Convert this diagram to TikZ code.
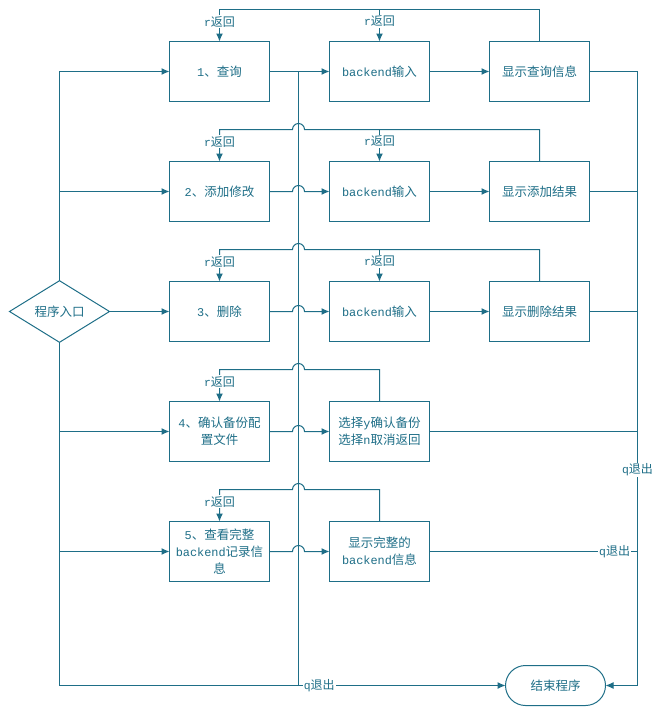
\documentclass[tikz,border=0pt]{standalone}
\usepackage{fontspec}
\setmainfont{Noto Sans CJK SC}
\setmonofont{Liberation Mono}[Scale=0.95]
\usetikzlibrary{arrows.meta,shapes.geometric,calc}
\definecolor{azul}{RGB}{30,110,135}
\tikzstyle{caja}=[draw=azul, text=azul, line width=1pt, align=center,
  minimum width=100pt, minimum height=60pt, inner sep=1pt, outer sep=0pt,
  font=\fontsize{12.5}{17}\selectfont]
\tikzstyle{rombo}=[caja, diamond, minimum height=60pt, inner sep=0pt]
\tikzstyle{fin}=[caja, minimum height=40pt, rounded corners=20pt]
\tikzstyle{texto}=[fill=white, text=azul, inner sep=1pt,
  font=\fontsize{12}{14}\selectfont]
\tikzstyle{linea}=[draw=azul, line width=1pt]
\tikzstyle{line}=[linea, -{Latex[length=8pt,width=7pt]}]
\newcommand{\bloque}[2]{node (#1) [caja] {#2}}
% salto sobre la linea central
\newcommand{\hopleft}[1]{-- ($(#1)+(6,0)$)
  arc[start angle=0,end angle=180,radius=6pt]}
\newcommand{\hopright}[1]{-- ($(#1)+(-6,0)$)
  arc[start angle=180,end angle=0,radius=6pt]}

\begin{document}
\begin{tikzpicture}[x=1pt,y=-1pt]
  \useasboundingbox (0,0) rectangle (662,715);

  % entrada
  \path (59.5,311.5) node (START) [rombo] {程序入口};

  % columna de opciones
  \path (START.east)+(110,-240) \bloque{QUERY}{\texttt{1}、查询};
  \path (QUERY.south)+(0,90) \bloque{ADD}{\texttt{2}、添加修改};
  \path (ADD.south)+(0,90) \bloque{DEL}{\texttt{3}、删除};
  \path (DEL.south)+(0,90) \bloque{BACKUP}{\texttt{4}、确认备份配\\置文件};
  \path (BACKUP.south)+(0,90) \bloque{VIEW}{\texttt{5}、查看完整\\\texttt{backend}记录信\\息};

  % backend
  \path (QUERY.east)+(110,0) \bloque{QUERYIN}{\texttt{backend}输入};
  \path (ADD.east)+(110,0) \bloque{ADDIN}{\texttt{backend}输入};
  \path (DEL.east)+(110,0) \bloque{DELIN}{\texttt{backend}输入};
  \path (BACKUP.east)+(110,0) \bloque{BACKUPSEL}{选择\texttt{y}确认备份\\选择\texttt{n}取消返回};
  \path (VIEW.east)+(110,0) \bloque{VIEWSHOW}{显示完整的\\\texttt{backend}信息};

  % resultados
  \path (QUERYIN.east)+(110,0) \bloque{QUERYSHOW}{显示查询信息};
  \path (ADDIN.east)+(110,0) \bloque{ADDSHOW}{显示添加结果};
  \path (DELIN.east)+(110,0) \bloque{DELSHOW}{显示删除结果};

  % salida
  \path (VIEWSHOW.south)+(176,104) node (END) [fin] {结束程序};

  % puntos auxiliares
  \path (QUERY.east)+(29,0) coordinate (MIDTOP);
  \path (QUERYSHOW.east)+(48,0) coordinate (RIGHTTOP);
  \path (RIGHTTOP |- END.east) coordinate (RIGHTBOT);
  \path (QUERYSHOW.north)+(0,-32) coordinate (LOOPA);
  \path (ADDSHOW.north)+(0,-32) coordinate (LOOPB);
  \path (DELSHOW.north)+(0,-32) coordinate (LOOPC);
  \path (BACKUPSEL.north)+(0,-32) coordinate (LOOPD);
  \path (VIEWSHOW.north)+(0,-32) coordinate (LOOPE);

  % entrada -> opciones
  \path [line] (START.north) |- (QUERY.west);
  \path [line] (START.north) |- (ADD.west);
  \path [line] (START.east) -- (DEL.west);
  \path [line] (START.south) |- (BACKUP.west);
  \path [line] (START.south) |- (VIEW.west);
  \path [linea] (START.south) |- (MIDTOP |- END.west);

  % opciones -> backend
  \path [line] (QUERY.east) -- (QUERYIN.west);
  \path [line] (ADD.east) \hopright{MIDTOP |- ADD.east} -- (ADDIN.west);
  \path [line] (DEL.east) \hopright{MIDTOP |- DEL.east} -- (DELIN.west);
  \path [line] (BACKUP.east) \hopright{MIDTOP |- BACKUP.east} -- (BACKUPSEL.west);
  \path [line] (VIEW.east) \hopright{MIDTOP |- VIEW.east} -- (VIEWSHOW.west);

  % backend -> resultados
  \path [line] (QUERYIN.east) -- (QUERYSHOW.west);
  \path [line] (ADDIN.east) -- (ADDSHOW.west);
  \path [line] (DELIN.east) -- (DELSHOW.west);

  % r返回
  \path [line] (QUERYSHOW.north) -- (LOOPA) -| node [texto,pos=0.69] {\texttt{r}返回} (QUERY.north);
  \path [line] (LOOPA -| QUERYIN.north) -- node [texto,pos=0.375] {\texttt{r}返回} (QUERYIN.north);
  \path [line] (ADDSHOW.north) -- (LOOPB) \hopleft{MIDTOP |- LOOPB} -| node [texto,pos=0.69] {\texttt{r}返回} (ADD.north);
  \path [line] (LOOPB -| ADDIN.north) -- node [texto,pos=0.375] {\texttt{r}返回} (ADDIN.north);
  \path [line] (DELSHOW.north) -- (LOOPC) \hopleft{MIDTOP |- LOOPC} -| node [texto,pos=0.69] {\texttt{r}返回} (DEL.north);
  \path [line] (LOOPC -| DELIN.north) -- node [texto,pos=0.375] {\texttt{r}返回} (DELIN.north);
  \path [line] (BACKUPSEL.north) -- (LOOPD) \hopleft{MIDTOP |- LOOPD} -| node [texto,pos=0.69] {\texttt{r}返回} (BACKUP.north);
  \path [line] (VIEWSHOW.north) -- (LOOPE) \hopleft{MIDTOP |- LOOPE} -| node [texto,pos=0.69] {\texttt{r}返回} (VIEW.north);

  % q退出
  \path [line] (QUERYSHOW.east) -| node [texto,pos=0.8245] {\texttt{q}退出} (RIGHTBOT) -- (END.east);
  \path [linea] (ADDSHOW.east) -- (ADDSHOW.east -| RIGHTTOP);
  \path [linea] (DELSHOW.east) -- (DELSHOW.east -| RIGHTTOP);
  \path [linea] (BACKUPSEL.east) -- (BACKUPSEL.east -| RIGHTTOP);
  \path [linea] (VIEWSHOW.east) -- node [texto,pos=0.89] {\texttt{q}退出} (VIEWSHOW.east -| RIGHTTOP);
  \path [line] (MIDTOP) |- node [texto,pos=0.55] {\texttt{q}退出} (END.west);

\end{tikzpicture}
\end{document}
